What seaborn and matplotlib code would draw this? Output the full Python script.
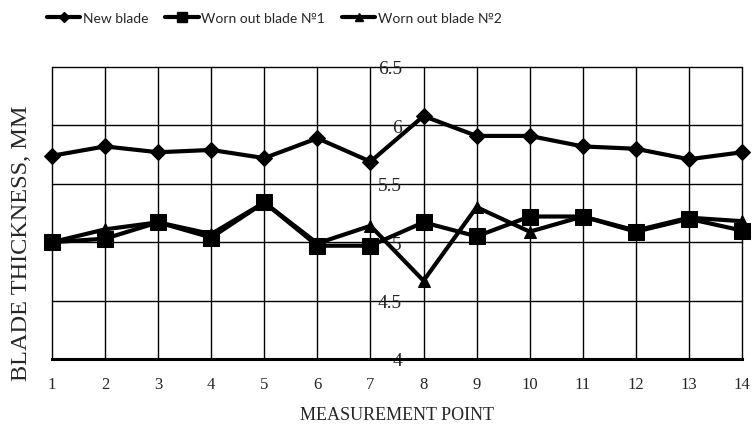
import matplotlib
matplotlib.use("Agg")
import matplotlib.pyplot as plt
import seaborn as sns
import pandas as pd
from matplotlib.lines import Line2D

points = list(range(1, 15))
new_blade = [5.74, 5.82, 5.77, 5.79, 5.72, 5.89, 5.69, 6.08, 5.91, 5.91, 5.82, 5.80, 5.71, 5.77]
worn_1 = [5.00, 5.03, 5.17, 5.04, 5.34, 4.97, 4.97, 5.17, 5.05, 5.22, 5.22, 5.09, 5.20, 5.10]
worn_2 = [5.00, 5.11, 5.17, 5.07, 5.34, 4.99, 5.14, 4.67, 5.30, 5.09, 5.22, 5.10, 5.21, 5.18]
series_names = ["New blade", "Worn out blade №1", "Worn out blade №2"]
y_ticks = [4, 4.5, 5, 5.5, 6, 6.5]
y_tick_labels = ["4", "4.5", "5", "5.5", "6", "6.5"]

sns.set_theme(style="white")
plt.rcParams["font.family"] = ["Liberation Serif", "DejaVu Serif"]

fig = plt.figure(figsize=(7.52, 4.27), dpi=100)
ax = fig.add_axes([52/752, 1-360/427, 690/752, 292/427])
ax.spines["left"].set_position(("data", 7.62))

markers = ["D", "s", "^"]
msizes = [8, 11, 9]
handles = []
for name, vals, m, ms in zip(series_names, [new_blade, worn_1, worn_2], markers, msizes):
    df = pd.DataFrame({"x": points, "y": vals})
    sns.lineplot(data=df, x="x", y="y", ax=ax, color="black", linewidth=3,
                 marker=m, markersize=ms, markeredgecolor="black",
                 markerfacecolor="black", zorder=3, clip_on=False)
    handles.append(Line2D([0], [0], color="black", linewidth=3, marker=m,
                          markersize=ms*0.7, markerfacecolor="black", markeredgecolor="black"))

ax.set_xlim(1, 14)
ax.set_ylim(4, 6.5)
ax.set_xticks(points)
ax.set_xticklabels([str(p) for p in points], fontsize=12)
ax.set_yticks(y_ticks)
ax.set_yticklabels(y_tick_labels, fontsize=14)
ax.grid(True, color="black", linewidth=1)
for l in ax.get_xgridlines() + ax.get_ygridlines():
    l.set_clip_on(False)
ax.spines["left"].set_visible(False)
ax.spines["right"].set_visible(False)
ax.spines["top"].set_visible(False)
ax.spines["bottom"].set_linewidth(2.2)
ax.spines["bottom"].set_color("black")
ax.tick_params(axis="y", length=0, pad=1)
ax.tick_params(axis="x", length=0, pad=12)
ax.set_xlabel("MEASUREMENT POINT", fontsize=13, labelpad=10)
ax.set_ylabel("")
fig.text(22/752, 1-243/427, "BLADE THICKNESS, MM", rotation=90, fontsize=17.5,
         ha="center", va="center")

leg = fig.legend(handles, series_names, loc="center left",
                 bbox_to_anchor=(47/752, 1-19/427), ncol=3, frameon=False,
                 fontsize=10, handlelength=2.4, handletextpad=0.2,
                 columnspacing=1.2, borderpad=0, borderaxespad=0)
for t in leg.get_texts():
    t.set_family(["Lato", "DejaVu Sans"])

fig.savefig("out.png", dpi=100)
